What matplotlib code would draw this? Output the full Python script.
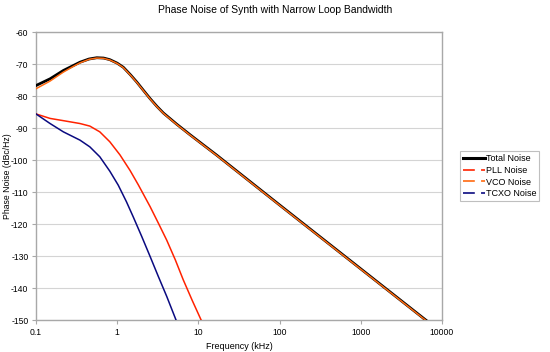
import matplotlib
matplotlib.use("Agg")
import matplotlib.pyplot as plt
import matplotlib.ticker as mticker
from matplotlib.lines import Line2D

# frequency (kHz) / phase noise (dBc/Hz)
total_f = [0.1, 0.149, 0.217, 0.28, 0.348, 0.45, 0.56, 0.68, 0.81, 1.0, 1.19, 1.45,
           1.74, 2.1, 2.54, 3.1, 3.7, 5.4, 7.88, 11.5, 16.8, 23.4, 100, 1000, 6300, 10000]
total_db = [-76.6, -74.5, -71.9, -70.5, -69.3, -68.3, -67.9, -68.0, -68.5, -69.6,
            -70.9, -73.2, -75.5, -78.1, -80.7, -83.2, -85.2, -88.7, -92.0, -95.2,
            -98.4, -101.3, -114.0, -134.0, -150.0, -154.0]

vco_f = total_f
vco_db = [-77.6, -75.2, -72.4, -70.8, -69.5, -68.4, -68.0, -68.1, -68.6, -69.7,
          -71.0, -73.3, -75.6, -78.2, -80.8, -83.3, -85.3, -88.8, -92.1, -95.3,
          -98.5, -101.4, -114.1, -134.1, -150.1, -154.1]

pll_f = [0.1, 0.149, 0.217, 0.348, 0.46, 0.61, 0.81, 1.08, 1.44, 1.82, 2.54, 3.2,
         4.07, 5.2, 6.5, 8.4, 10.8, 12]
pll_db = [-85.5, -86.9, -87.6, -88.5, -89.3, -91.1, -94.2, -98.3, -103.2, -107.7,
          -114.5, -119.6, -125.0, -131.2, -137.4, -143.9, -150.0, -153.0]

tcxo_f = [0.1, 0.149, 0.217, 0.348, 0.46, 0.61, 0.81, 1.03, 1.3, 1.58, 2.0, 2.54,
          3.2, 4.07, 5.3, 6.0]
tcxo_db = [-85.5, -88.5, -91.1, -93.7, -95.8, -98.9, -103.4, -107.8, -113.0, -117.8,
           -123.8, -130.1, -136.3, -142.6, -150.0, -153.0]

legend_labels = ["Total Noise", "PLL Noise", "VCO Noise", "TCXO Noise"]
colors = ["#000000", "#ff2200", "#ff6a10", "#0a0a80"]

plt.rcParams["font.family"] = ["Liberation Sans", "DejaVu Sans"]
plt.rcParams["lines.scale_dashes"] = False
plt.rcParams["axes.unicode_minus"] = False

fig = plt.figure(figsize=(5.5, 3.52), dpi=100)
ax = fig.add_axes([0.0655, 0.0909, 0.7381, 0.8168])

ax.plot(total_f, total_db, color=colors[0], lw=2.0, zorder=3)
ax.plot(pll_f, pll_db, color=colors[1], lw=1.1, zorder=4)
ax.plot(vco_f, vco_db, color=colors[2], lw=1.1, zorder=5)
ax.plot(tcxo_f, tcxo_db, color=colors[3], lw=1.1, zorder=4)

ax.set_xscale("log")
ax.set_xlim(0.1, 10000)
ax.set_ylim(-150, -60)
ax.set_yticks(range(-150, -59, 10))
ax.xaxis.set_major_locator(mticker.FixedLocator([0.1, 1, 10, 100, 1000, 10000]))
ax.xaxis.set_minor_locator(mticker.NullLocator())
ax.xaxis.set_major_formatter(mticker.FuncFormatter(lambda v, _: f"{v:g}"))

ax.grid(axis="y", color="#d4d4d4", lw=0.8)
ax.set_axisbelow(True)
for s in ax.spines.values():
    s.set_color("#a8a8a8")
    s.set_linewidth(1.0)
ax.tick_params(labelsize=6.2, length=3, color="#a8a8a8", width=0.8, pad=2.5)

ax.set_xlabel("Frequency (kHz)", fontsize=6.5, labelpad=4)
fig.text(8 / 550, 0.5, "Phase Noise (dBc/Hz)", fontsize=6.2, rotation=90,
         ha="center", va="center")
fig.suptitle("Phase Noise of Synth with Narrow Loop Bandwidth", fontsize=7.5,
             x=0.5, y=0.985)

handles = [Line2D([], [], color=colors[0], lw=2.2)]
for c in colors[1:]:
    handles.append(Line2D([], [], color=c, lw=1.2, dashes=(8.5, 4.5, 3.5, 30)))
leg = ax.legend(handles, legend_labels, loc="center left", bbox_to_anchor=(1.045, 0.5),
                fontsize=6.5, frameon=True, fancybox=False, handlelength=2.4,
                handletextpad=0.1, borderpad=0.3, labelspacing=0.3,
                borderaxespad=0)
leg.get_frame().set_edgecolor("#b0b0b0")
leg.get_frame().set_linewidth(0.8)

fig.savefig("out.png", dpi=100)
